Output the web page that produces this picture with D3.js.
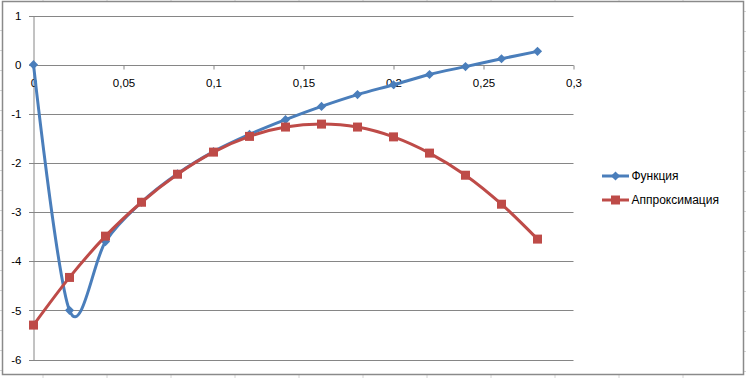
<!DOCTYPE html>
<html>
<head>
<meta charset="utf-8">
<script src="https://cdn.jsdelivr.net/npm/d3@7"></script>
<style>
  body { margin: 0; background: #fff; }
  svg { display: block; }
  .axis text { font-family: "Liberation Sans", Arial, sans-serif; font-size: 11.5px; fill: #000; }
</style>
</head>
<body>
<svg id="chart"></svg>
<script>
let w = 746;
let h = 378;

// data
let xValues = [0, 0.02, 0.04, 0.06, 0.08, 0.10, 0.12, 0.14, 0.16, 0.18, 0.20, 0.22, 0.24, 0.26, 0.28];
let funcValues = [0, -5.0, -3.6, -2.8, -2.22, -1.77, -1.42, -1.12, -0.85, -0.61, -0.41, -0.2, -0.04, 0.12, 0.27];
let approxValues = [-5.3, -4.33, -3.49, -2.8, -2.23, -1.78, -1.46, -1.27, -1.21, -1.27, -1.47, -1.8, -2.25, -2.84, -3.55];
let seriesNames = ["Функция", "Аппроксимация"];
let xTicks = [0, 0.05, 0.1, 0.15, 0.2, 0.25, 0.3];
let yTicks = [1, 0, -1, -2, -3, -4, -5, -6];

let blue = "#4A7EBB";
let red = "#BE4B48";
let gridColor = "#868686";

let chart = d3.select("#chart")
  .attr("width", w)
  .attr("height", h);

// faint spreadsheet cells behind the chart
let cellX = d3.range(43, w, 64);
let cellY = d3.range(11, h, 20);
chart.append("g").selectAll("line").data(cellX).join("line")
  .attr("x1", d => d).attr("x2", d => d).attr("y1", 374).attr("y2", h)
  .attr("stroke", "#d4d4d4");
chart.append("g").selectAll("line").data(cellX).join("line")
  .attr("x1", d => d).attr("x2", d => d).attr("y1", 0).attr("y2", 1)
  .attr("stroke", "#d4d4d4");
chart.append("g").selectAll("line").data(cellY).join("line")
  .attr("x1", 744).attr("x2", w).attr("y1", d => d + 0.5).attr("y2", d => d + 0.5)
  .attr("stroke", "#d4d4d4");
chart.append("g").selectAll("line").data(cellY).join("line")
  .attr("x1", 0).attr("x2", 2).attr("y1", d => d + 19.5).attr("y2", d => d + 19.5)
  .attr("stroke", "#d4d4d4");

// chart frame
chart.append("rect")
  .attr("x", 2.5).attr("y", 1.5)
  .attr("width", 741).attr("height", 373)
  .attr("fill", "#fff")
  .attr("stroke", "#8a8a8a")
  .attr("stroke-width", 1.5);

let xScale = d3.scaleLinear()
  .domain([0, 0.3])
  .range([33.5, 573.5]);

let yScale = d3.scaleLinear()
  .domain([-6, 1])
  .range([359.5, 15.5]);

let commaFmt = d => d3.format("")(+d.toFixed(2)).replace(".", ",");

// horizontal gridlines (with tick stubs to the left)
chart.append("g")
  .selectAll("line")
  .data(yTicks)
  .join("line")
  .attr("x1", 29)
  .attr("x2", xScale(0.3))
  .attr("y1", d => Math.round(yScale(d)) + 0.5)
  .attr("y2", d => Math.round(yScale(d)) + 0.5)
  .attr("stroke", gridColor)
  .attr("stroke-width", 1);

// y axis
let yAxis = d3.axisLeft(yScale)
  .tickValues(yTicks)
  .tickSize(0)
  .tickPadding(12)
  .tickFormat(d => String(d));

let yAxisGroup = chart.append("g")
  .attr("class", "axis")
  .attr("transform", `translate(${xScale(0)}, 0)`)
  .call(yAxis);
yAxisGroup.select(".domain").attr("stroke", gridColor);

// x axis sits on y = 0
let xAxis = d3.axisBottom(xScale)
  .tickValues(xTicks)
  .tickSize(4)
  .tickPadding(9)
  .tickFormat(commaFmt);

let xAxisGroup = chart.append("g")
  .attr("class", "axis")
  .attr("transform", `translate(0, ${Math.round(yScale(0)) + 0.5})`)
  .call(xAxis);
xAxisGroup.select(".domain").attr("stroke", gridColor).attr("d", `M${xScale(0)},0H${xScale(0.3)}`);
xAxisGroup.selectAll(".tick line").attr("stroke", gridColor);

// series; Excel diamonds are squares turned 45 degrees
let series = [
  { name: seriesNames[0], values: funcValues, color: blue, marker: d3.symbolSquare, size: 42, rot: 45 },
  { name: seriesNames[1], values: approxValues, color: red, marker: d3.symbolSquare, size: 81, rot: 0 }
];

let line = d3.line()
  .x(d => xScale(d[0]))
  .y(d => yScale(d[1]))
  .curve(d3.curveCatmullRom.alpha(0));

series.forEach(s => {
  let pts = xValues.map((x, i) => [x, s.values[i]]);
  chart.append("path")
    .datum(pts)
    .attr("d", line)
    .attr("fill", "none")
    .attr("stroke", s.color)
    .attr("stroke-width", 3)
    .attr("stroke-linejoin", "round");
  chart.append("g")
    .selectAll("path")
    .data(pts)
    .join("path")
    .attr("transform", d => `translate(${xScale(d[0])}, ${yScale(d[1])}) rotate(${s.rot})`)
    .attr("d", d3.symbol().type(s.marker).size(s.size))
    .attr("fill", s.color);
});

// legend
let legend = chart.append("g")
  .selectAll("g")
  .data(series)
  .join("g")
  .attr("transform", (d, i) => `translate(602, ${176 + i * 24})`);

legend.append("line")
  .attr("x1", 0).attr("x2", 27)
  .attr("stroke", d => d.color)
  .attr("stroke-width", 3);

legend.append("path")
  .attr("transform", d => `translate(13.5, 0) rotate(${d.rot})`)
  .attr("d", d => d3.symbol().type(d.marker).size(d.size)())
  .attr("fill", d => d.color);

legend.append("text")
  .attr("x", 29.5)
  .attr("dy", "0.35em")
  .attr("font-family", "Liberation Sans, Arial, sans-serif")
  .attr("font-size", 12)
  .text(d => d.name);
</script>
</body>
</html>
